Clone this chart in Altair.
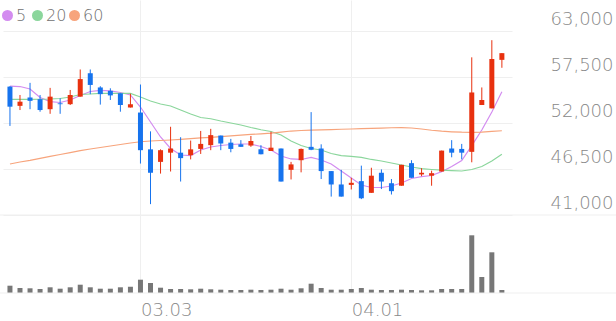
import altair as alt
import pandas as pd

# ---------------- data ----------------
dates = [d.strftime("%m.%d") for d in pd.bdate_range("2025-02-12", periods=50)]

open_ = [56350, 54050, 55050, 54850, 53650, 54350, 54250, 55150, 57950, 56250,
         55850, 55550, 53850, 53250, 48850, 47350, 48450, 48450, 48150, 48900,
         49350, 50500, 49650, 49450, 49300, 48850, 48650, 48950, 46400, 47550,
         49150, 48950, 46250, 44650, 44600, 45050, 43650, 46050, 44800, 44500,
         47200, 45850, 45700, 46200, 48950, 48900, 48550, 54150, 53750, 59550]
close = [53950, 54550, 54650, 53550, 55150, 54250, 55350, 57250, 56550, 55450,
         55300, 54150, 54250, 48750, 46050, 48750, 48950, 47800, 48850, 49500,
         50550, 49550, 48900, 49150, 49850, 48250, 49050, 45000, 47050, 48900,
         48800, 46250, 44650, 43200, 44850, 43000, 45700, 45000, 43850, 47000,
         45450, 46050, 46000, 48700, 48450, 48450, 55650, 54750, 59650, 60350]
high = [56400, 55350, 56800, 55350, 56200, 54950, 55950, 58400, 58400, 56400,
        56150, 55550, 55500, 56600, 51000, 48850, 51550, 50300, 49900, 51050,
        51300, 50500, 50100, 49950, 50450, 49350, 50950, 48950, 47350, 48950,
        53300, 49450, 46250, 46400, 45450, 46900, 46650, 46450, 45300, 47000,
        47550, 46600, 46300, 48700, 49950, 49500, 59850, 56250, 61900, 60350]
low = [51650, 53550, 53650, 53350, 53100, 53100, 54150, 55150, 55450, 54200,
       54750, 53350, 53850, 47150, 42300, 45950, 46200, 45000, 47650, 48300,
       48750, 48750, 48500, 49150, 49150, 48250, 48650, 45000, 45250, 46100,
       48750, 45300, 43200, 43200, 44050, 42900, 43650, 44100, 43450, 44500,
       45450, 45650, 44500, 46200, 47900, 47650, 47300, 54150, 53750, 58600]
volume = [730, 500, 470, 400, 570, 430, 570, 830, 570, 430,
          430, 570, 630, 1330, 1000, 530, 400, 400, 370, 430,
          370, 330, 300, 300, 330, 300, 330, 430, 330, 470,
          930, 500, 330, 330, 400, 500, 330, 300, 300, 330,
          300, 270, 270, 400, 400, 400, 5770, 1600, 4070, 300]

ma5 = [56420, 56360, 56070, 55050, 54550, 54450, 54750, 55290, 55770, 55890,
       55830, 55650, 55350, 53910, 52120, 50330, 48950, 48170, 48110, 48770,
       49130, 49310, 49430, 49490, 49490, 49190, 48770, 48050, 47700, 47640,
       47880, 47580, 47100, 46260, 45420, 44590, 44290, 44290, 44470, 44830,
       45360, 45580, 45720, 46180, 46800, 47520, 49300, 51160, 53320, 55740]
ma20 = [54830, 54830, 54830, 54840, 54870, 54930, 55110, 55410, 55470, 55530,
        55530, 55530, 55530, 55110, 54630, 54270, 54030, 53550, 53080, 52660,
        52510, 52240, 52000, 51760, 51460, 51190, 50980, 50570, 49850, 49310,
        48950, 48770, 48350, 48110, 48000, 47880, 47640, 47460, 47220, 46980,
        46740, 46540, 46440, 46360, 46300, 46260, 46440, 46800, 47460, 48260]
ma60 = [47100, 47340, 47540, 47780, 48000, 48230, 48450, 48690, 48890, 49070,
        49250, 49430, 49610, 49760, 49850, 49910, 49970, 50050, 50140, 50210,
        50280, 50360, 50450, 50540, 50630, 50710, 50800, 50920, 51040, 51100,
        51140, 51180, 51210, 51250, 51280, 51320, 51350, 51390, 51430, 51440,
        51400, 51280, 51130, 51020, 50950, 50900, 50890, 50920, 51000, 51070]

ma_names = ["5", "20", "60"]
ma_colors = ["#d38cf0", "#8bd69c", "#f7a47c"]
price_ticks = [41000, 46500, 52000, 57500, 63000]
date_ticks = [13, 34]

RED = "#e8310f"
BLUE = "#1673ee"
GRID = "#efefef"
TEXT = "#888888"
FONT = "DejaVu Sans"

# ---------------- tables ----------------
idx = list(range(len(dates)))
df = pd.DataFrame({"i": idx, "date": dates, "open": open_, "close": close,
                   "high": high, "low": low, "volume": volume})
ma_df = pd.concat([
    pd.DataFrame({"i": idx, "value": vals, "ma": name})
    for name, vals in zip(ma_names, [ma5, ma20, ma60])
])

label_expr = "[" + ",".join("'%s'" % d for d in dates) + "][datum.value]"

# one plot 509 x 293: price in the top 215 px, volume in the bottom 78 px
x_scale = alt.Scale(domain=[-0.195, 49.51], nice=False, zero=False)
x_axis = alt.Axis(values=date_ticks, labelExpr=label_expr, labelAlign="left",
                  labelBaseline="top", labelPadding=8, labelFontSize=18,
                  labelFontWeight=200, labelColor=TEXT, labelFont=FONT,
                  ticks=False, domain=False, grid=True, gridColor=GRID, title=None)
X = alt.X("i:Q", scale=x_scale, axis=x_axis)

y_scale = alt.Scale(domain=[31674, 66706], nice=False, zero=False)
y_axis = alt.Axis(orient="right", values=price_ticks, format=",d", grid=True,
                  gridColor=GRID, domain=False, ticks=False, labelAlign="right",
                  labelPadding=101, labelBaseline="alphabetic", labelOffset=-6,
                  labelFontSize=18, labelFontWeight=200, labelColor=TEXT,
                  labelFont=FONT, title=None)


def Y(field):
    return alt.Y(field, type="quantitative", scale=y_scale, axis=y_axis)


candle_color = alt.condition("datum.close >= datum.open", alt.value(RED), alt.value(BLUE))

lines = alt.Chart(ma_df).mark_line(strokeWidth=1.2).encode(
    x=X, y=Y("value"),
    color=alt.Color("ma:N", sort=ma_names,
                    scale=alt.Scale(domain=ma_names, range=ma_colors), legend=None),
    order="i:Q",
)

wicks = alt.Chart(df).mark_rule(strokeWidth=1).encode(
    x=X, y=Y("low"), y2="high", color=candle_color)

bodies = alt.Chart(df).mark_bar(width=5).encode(
    x=X, y=Y("open"), y2="close", color=candle_color)

sep = alt.Chart(pd.DataFrame({"v": [41000]})).mark_rule(color=GRID, strokeWidth=1).encode(
    y=Y("v"), x=alt.value(-3), x2=alt.value(613))

# hand-placed legend (layout positions, in pixels)
legend_symbol_x = [4.5, 34.5, 71.5]
legend_text_x = [13, 43, 80]
one = pd.DataFrame({"k": [0]})
legend_layers = []
for name, col, sx, tx in zip(ma_names, ma_colors, legend_symbol_x, legend_text_x):
    legend_layers.append(
        alt.Chart(one).mark_circle(size=121, opacity=1, color=col).encode(
            x=alt.value(sx), y=alt.value(15.5)))
    legend_layers.append(
        alt.Chart(one).mark_text(align="left", baseline="middle", fontSize=16,
                                 fontWeight=200, font=FONT, color="#707070").encode(
            x=alt.value(tx), y=alt.value(16), text=alt.value(name)))

price = alt.layer(lines, wicks, bodies, sep, *legend_layers)

vol_scale = alt.Scale(domain=[0, 29300], nice=False)
vol_bars = alt.Chart(df).mark_bar(width=5, color="#777777").encode(
    x=X, y=alt.Y("volume:Q", scale=vol_scale, axis=None))

base_line = alt.Chart(pd.DataFrame({"v": [0]})).mark_rule(color=GRID, strokeWidth=1).encode(
    y=alt.Y("v:Q", scale=vol_scale, axis=None),
    x=alt.value(-3), x2=alt.value(613))

vol = alt.layer(vol_bars, base_line)

chart = alt.layer(price, vol).resolve_scale(y="independent").properties(
    width=509, height=293,
    autosize=alt.AutoSizeParams(type="none"),
    padding={"left": 3, "top": 0, "right": 104, "bottom": 28},
).configure_view(stroke=None)

chart.save("out.html", embed_options={"renderer": "svg", "actions": False})
